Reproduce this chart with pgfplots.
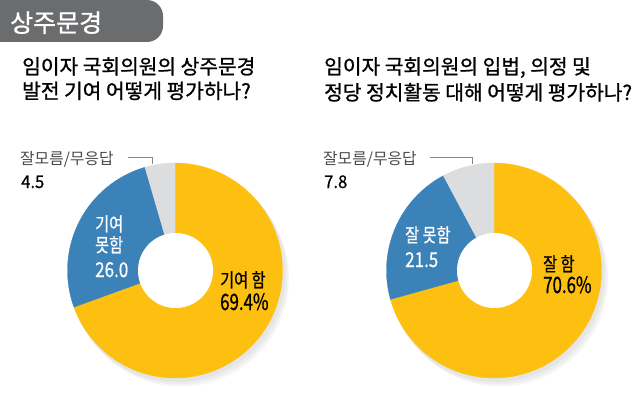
\documentclass[border=0pt]{standalone}
\usepackage{pgfplots}
\usepackage{pgfplotstable}
\pgfplotsset{compat=1.18}
\usepackage{fontspec}
\setmainfont{Noto Sans CJK KR}
\newfontfamily\ttlfont[FakeBold=1]{Noto Sans CJK KR}
\newfontfamily\labfont[FakeStretch=0.8,FakeBold=0.6]{Noto Sans CJK KR}
\newfontfamily\bignum[FakeStretch=0.75,FakeBold=0.6]{Noto Sans CJK KR}
\newfontfamily\midnum[FakeStretch=0.83,FakeBold=0.6]{Noto Sans CJK KR}
\newfontfamily\smlnum[FakeStretch=0.95,FakeBold=0.6]{Noto Sans CJK KR}
\definecolor{cYel}{HTML}{FDC010}
\definecolor{cBlue}{HTML}{3B82B9}
\definecolor{cGray}{HTML}{DCDDDF}
\definecolor{tagGray}{HTML}{6B6C6E}
\definecolor{txtGray}{HTML}{4A4A4A}
\definecolor{lineGray}{HTML}{888888}

% ---- data ----
\pgfplotstableread{
cat value
yes 69.4
no 26.0
dk 4.5
}\leftdata
\pgfplotstableread{
cat value
yes 70.6
no 21.5
dk 7.8
}\rightdata

\pgfplotstablegetelem{0}{value}\of\leftdata \let\La\pgfplotsretval
\pgfplotstablegetelem{1}{value}\of\leftdata \let\Lb\pgfplotsretval
\pgfplotstablegetelem{2}{value}\of\leftdata \let\Lc\pgfplotsretval
\pgfmathsetmacro\Ltot{\La+\Lb+\Lc}
\pgfmathsetmacro\LA{90-\La/\Ltot*360}
\pgfmathsetmacro\LB{\LA-\Lb/\Ltot*360}

\pgfplotstablegetelem{0}{value}\of\rightdata \let\Ra\pgfplotsretval
\pgfplotstablegetelem{1}{value}\of\rightdata \let\Rb\pgfplotsretval
\pgfplotstablegetelem{2}{value}\of\rightdata \let\Rc\pgfplotsretval
\pgfmathsetmacro\Rtot{\Ra+\Rb+\Rc}
\pgfmathsetmacro\RA{90-\Ra/\Rtot*360}
\pgfmathsetmacro\RB{\RA-\Rb/\Rtot*360}

\newcommand\ttl{\ttlfont\fontsize{20.3bp}{24bp}\selectfont}
\newcommand\lab{\labfont\fontsize{19bp}{22bp}\selectfont}
\newcommand\bigf{\bignum\fontsize{22.5bp}{26bp}\selectfont}
\newcommand\midf{\midnum\fontsize{20.5bp}{24bp}\selectfont}
\newcommand\smlf{\smlnum\fontsize{17.5bp}{20bp}\selectfont}
\newcommand\smallfnt{\fontsize{15.8bp}{18bp}\selectfont}

\begin{document}
\begin{tikzpicture}
\useasboundingbox (0,0) rectangle (640bp,399bp);
\begin{axis}[at={(0,0)}, anchor=south west, scale only axis,
  width=640bp, height=399bp, xmin=0, xmax=640, ymin=0, ymax=399,
  y dir=reverse, hide axis, clip=false]

% tag
\fill[tagGray, rounded corners=16bp] (axis cs:-30,0) rectangle (axis cs:163,42);
\node[anchor=base west, text=white, font=\ttlfont\fontsize{25bp}{28bp}\selectfont, inner sep=0pt] at (axis cs:10,32) {상주문경};

% titles
\node[anchor=base west, inner sep=0pt, font=\ttl] at (axis cs:22,74) {임이자 국회의원의 상주문경};
\node[anchor=base west, inner sep=0pt, font=\ttl] at (axis cs:22,98.5) {발전 기여 어떻게 평가하나?};
\node[anchor=base west, inner sep=0pt, font=\ttl] at (axis cs:324,74) {임이자 국회의원의 입법, 의정 및};
\node[anchor=base west, inner sep=0pt, font=\ttl] at (axis cs:324,100) {정당 정치활동 대해 어떻게 평가하나?};

% ---- left donut ----
\addplot[fill=black, fill opacity=0.035, draw=none, domain=0:360, samples=120] ({177+108.5*cos(x)},{273.5-108.5*sin(x)});
\addplot[fill=black, fill opacity=0.035, draw=none, domain=0:360, samples=120] ({179+108.5*cos(x)},{276-108.5*sin(x)});
\addplot[fill=black, fill opacity=0.035, draw=none, domain=0:360, samples=120] ({181+108*cos(x)},{278.5-108*sin(x)});
\addplot[fill=cYel, draw=cYel, line width=0.3bp, domain=\LA:90, samples=160] ({175+107.5*cos(x)},{270.5-107.5*sin(x)}) -- (175,270.5) -- cycle;
\addplot[fill=cBlue, draw=cBlue, line width=0.3bp, domain=\LB:\LA, samples=80] ({175+107.5*cos(x)},{270.5-107.5*sin(x)}) -- (175,270.5) -- cycle;
\addplot[fill=cGray, draw=cGray, line width=0.3bp, domain=-270:\LB, samples=30] ({175+107.5*cos(x)},{270.5-107.5*sin(x)}) -- (175,270.5) -- cycle;
\addplot[fill=white, draw=none, domain=0:360, samples=120] ({175.5+37.5*cos(x)},{270.5-37.5*sin(x)});

% ---- right donut ----
\addplot[fill=black, fill opacity=0.035, draw=none, domain=0:360, samples=120] ({496+108.5*cos(x)},{273.5-108.5*sin(x)});
\addplot[fill=black, fill opacity=0.035, draw=none, domain=0:360, samples=120] ({498+108.5*cos(x)},{276-108.5*sin(x)});
\addplot[fill=black, fill opacity=0.035, draw=none, domain=0:360, samples=120] ({500+108*cos(x)},{278.5-108*sin(x)});
\addplot[fill=cYel, draw=cYel, line width=0.3bp, domain=\RA:90, samples=160] ({494+107.5*cos(x)},{270.5-107.5*sin(x)}) -- (494,270.5) -- cycle;
\addplot[fill=cBlue, draw=cBlue, line width=0.3bp, domain=\RB:\RA, samples=80] ({494+107.5*cos(x)},{270.5-107.5*sin(x)}) -- (494,270.5) -- cycle;
\addplot[fill=cGray, draw=cGray, line width=0.3bp, domain=-270:\RB, samples=30] ({494+107.5*cos(x)},{270.5-107.5*sin(x)}) -- (494,270.5) -- cycle;
\addplot[fill=white, draw=none, domain=0:360, samples=120] ({494.5+37.5*cos(x)},{270.5-37.5*sin(x)});

% leader lines
\addplot[lineGray, line width=0.8bp] coordinates {(128,157) (152,157) (152,164)};
\addplot[lineGray, line width=0.8bp] coordinates {(430,157) (472,157) (472,164)};

% labels left
\node[anchor=base west, inner sep=0pt, font=\smallfnt, text=txtGray] at (axis cs:20,164) {잘모름/무응답};
\node[anchor=base west, inner sep=0pt, font=\smlf] at (axis cs:21,188) {4.5};
\node[anchor=base west, inner sep=0pt, font=\lab, text=white] at (axis cs:95,231) {기여};
\node[anchor=base west, inner sep=0pt, font=\lab, text=white] at (axis cs:95,252) {못함};
\node[anchor=base west, inner sep=0pt, font=\midf, text=white] at (axis cs:95,277) {26.0};
\node[anchor=base west, inner sep=0pt, font=\lab] at (axis cs:220,287) {기여 함};
\node[anchor=base west, inner sep=0pt, font=\bigf] at (axis cs:220,310) {69.4\%};

% labels right
\node[anchor=base west, inner sep=0pt, font=\smallfnt, text=txtGray] at (axis cs:323,164) {잘모름/무응답};
\node[anchor=base west, inner sep=0pt, font=\smlf] at (axis cs:324,188) {7.8};
\node[anchor=base west, inner sep=0pt, font=\lab, text=white] at (axis cs:405,242) {잘 못함};
\node[anchor=base west, inner sep=0pt, font=\midf, text=white] at (axis cs:405,267) {21.5};
\node[anchor=base west, inner sep=0pt, font=\lab] at (axis cs:543,271) {잘 함};
\node[anchor=base west, inner sep=0pt, font=\bigf] at (axis cs:543,293) {70.6\%};
\end{axis}
\end{tikzpicture}
\end{document}
